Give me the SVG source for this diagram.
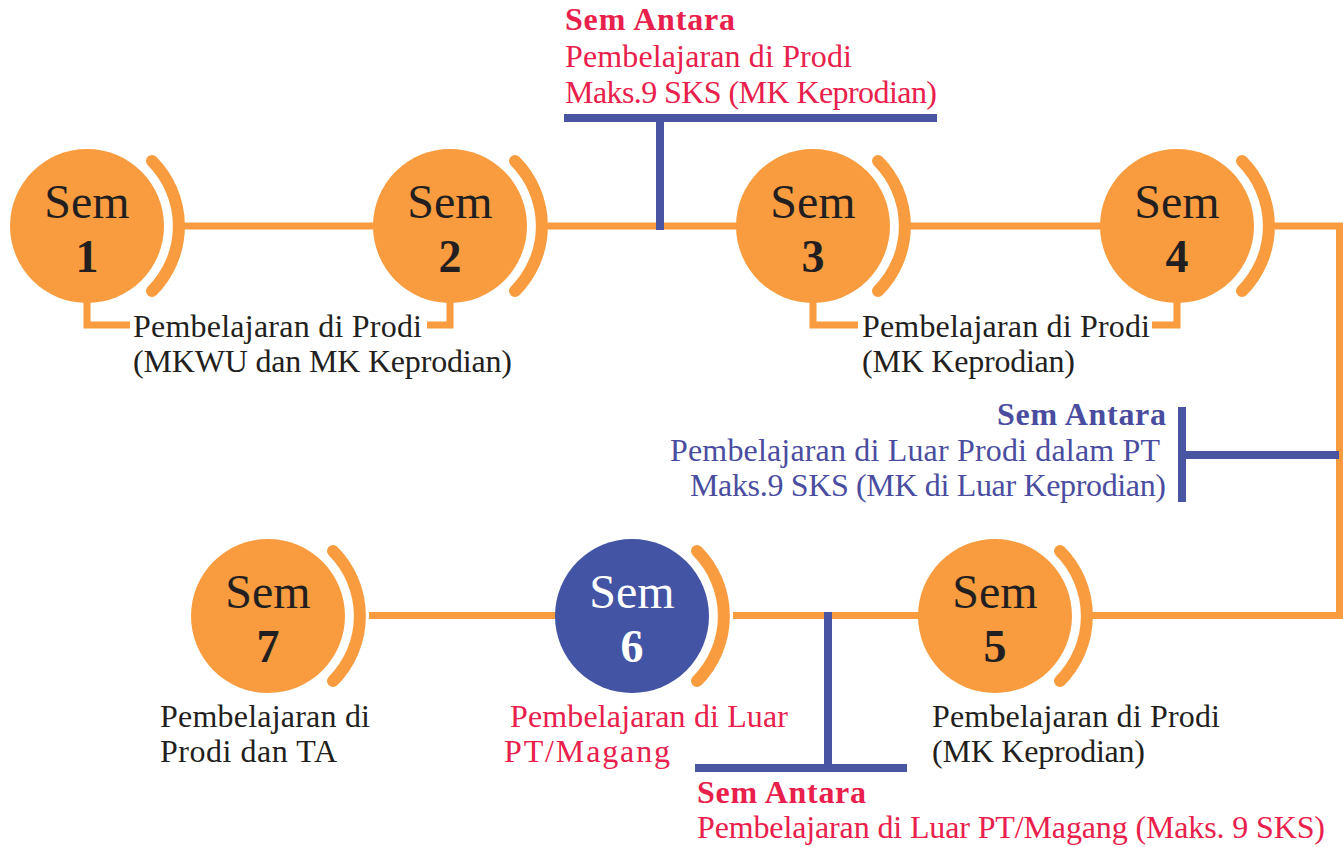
<svg xmlns="http://www.w3.org/2000/svg" width="1343" height="847" viewBox="0 0 1343 847">
<style>
.circ{fill:#f89c3f}
.circB{fill:#4254a3}
.arc{fill:none;stroke:#f89c3f;stroke-width:12;stroke-linecap:round}
.ol{fill:none;stroke:#f89c3f;stroke-width:7}
.bl{fill:none;stroke:#4a55a2;stroke-width:8}
.sem{font-family:"Liberation Serif",serif;font-size:48px;fill:#231f20;text-anchor:middle}
.num{font-family:"Liberation Serif",serif;font-size:46px;font-weight:bold;fill:#231f20;text-anchor:middle}
.w{fill:#ffffff}
.t{font-family:"Liberation Serif",serif;font-size:32px;fill:#231f20}
.r{fill:#e8204b}
.b{fill:#4a4d9f}
.h{font-family:"Liberation Serif",serif;font-size:32px;font-weight:bold}
.end{text-anchor:end}
</style>
<rect width="1343" height="847" fill="#ffffff"/>
<g id="connectors">
<line class="ol" x1="180" y1="226" x2="376" y2="226"/>
<line class="ol" x1="544" y1="226" x2="739" y2="226"/>
<line class="ol" x1="907" y1="226" x2="1103" y2="226"/>
<polyline class="ol" points="1271,226 1339.5,226 1339.5,615.5 1089,615.5"/>
<line class="ol" x1="733" y1="615.5" x2="921" y2="615.5"/>
<line class="ol" x1="369" y1="615.5" x2="558" y2="615.5"/>
<polyline class="ol" points="87,300 87,325 130,325"/>
<polyline class="ol" points="427,325 450,325 450,300"/>
<polyline class="ol" points="813,300 813,325 858,325"/>
<polyline class="ol" points="1152,325 1177,325 1177,300"/>
<line class="bl" x1="564" y1="118" x2="937" y2="118"/>
<line class="bl" x1="660" y1="118" x2="660" y2="230"/>
<line class="bl" x1="1182" y1="407" x2="1182" y2="502"/>
<line class="bl" x1="1182" y1="455" x2="1339" y2="455"/>
<line class="bl" x1="828" y1="612" x2="828" y2="768"/>
<line class="bl" x1="695" y1="768" x2="907" y2="768"/>
</g>
<g id="sem1">
<circle class="circ" cx="87" cy="226" r="77"/>
<path class="arc" d="M152,161 A92,92 0 0 1 152,291"/>
<text class="sem" x="87" y="218">Sem</text>
<text class="num" x="87" y="272">1</text>
</g>
<g id="sem2">
<circle class="circ" cx="450" cy="226" r="77"/>
<path class="arc" d="M515,161 A92,92 0 0 1 515,291"/>
<text class="sem" x="450" y="218">Sem</text>
<text class="num" x="450" y="272">2</text>
</g>
<g id="sem3">
<circle class="circ" cx="813" cy="226" r="77"/>
<path class="arc" d="M878,161 A92,92 0 0 1 878,291"/>
<text class="sem" x="813" y="218">Sem</text>
<text class="num" x="813" y="272">3</text>
</g>
<g id="sem4">
<circle class="circ" cx="1177" cy="226" r="77"/>
<path class="arc" d="M1242,161 A92,92 0 0 1 1242,291"/>
<text class="sem" x="1177" y="218">Sem</text>
<text class="num" x="1177" y="272">4</text>
</g>
<g id="sem5">
<circle class="circ" cx="995" cy="616" r="77"/>
<path class="arc" d="M1060,551 A92,92 0 0 1 1060,681"/>
<text class="sem" x="995" y="608">Sem</text>
<text class="num" x="995" y="662">5</text>
</g>
<g id="sem6">
<circle class="circB" cx="632" cy="616" r="77"/>
<path class="arc" d="M697,551 A92,92 0 0 1 697,681"/>
<text class="sem w" x="632" y="608">Sem</text>
<text class="num w" x="632" y="662">6</text>
</g>
<g id="sem7">
<circle class="circ" cx="268" cy="616" r="77"/>
<path class="arc" d="M333,551 A92,92 0 0 1 333,681"/>
<text class="sem" x="268" y="608">Sem</text>
<text class="num" x="268" y="662">7</text>
</g>
<g id="antara-top">
<text class="h r" x="565" y="30" textLength="170">Sem Antara</text>
<text class="t r" x="565" y="67" textLength="287">Pembelajaran di Prodi</text>
<text class="t r" x="565" y="103" textLength="372">Maks.9 SKS (MK Keprodian)</text>
</g>
<g id="label-12">
<text class="t" x="133" y="337" textLength="289">Pembelajaran di Prodi</text>
<text class="t" x="133" y="372" textLength="379">(MKWU dan MK Keprodian)</text>
</g>
<g id="label-34">
<text class="t" x="862" y="337" textLength="288">Pembelajaran di Prodi</text>
<text class="t" x="862" y="372" textLength="213">(MK Keprodian)</text>
</g>
<g id="antara-mid">
<text class="h b end" x="1166" y="425" textLength="169">Sem Antara</text>
<text class="t b end" x="1160" y="461" textLength="490">Pembelajaran di Luar Prodi dalam PT</text>
<text class="t b end" x="1166" y="496" textLength="476">Maks.9 SKS (MK di Luar Keprodian)</text>
</g>
<g id="label-7">
<text class="t" x="160" y="727" textLength="210">Pembelajaran di</text>
<text class="t" x="160" y="762" textLength="177">Prodi dan TA</text>
</g>
<g id="label-6">
<text class="t r" x="510" y="727" textLength="278">Pembelajaran di Luar</text>
<text class="t r" x="504" y="762" textLength="166">PT/Magang</text>
</g>
<g id="label-5">
<text class="t" x="932" y="727" textLength="288">Pembelajaran di Prodi</text>
<text class="t" x="932" y="762" textLength="213">(MK Keprodian)</text>
</g>
<g id="antara-bottom">
<text class="h r" x="697" y="803" textLength="169">Sem Antara</text>
<text class="t r" x="697" y="838" textLength="628">Pembelajaran di Luar PT/Magang (Maks. 9 SKS)</text>
</g>
</svg>
